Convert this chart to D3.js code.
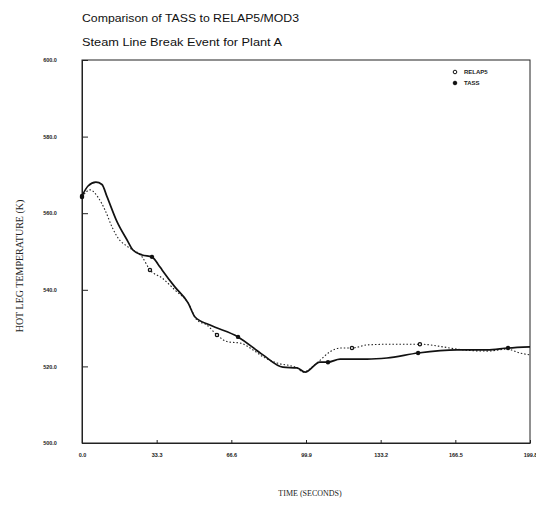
<!DOCTYPE html>
<html>
<head>
<meta charset="utf-8">
<script src="https://cdn.jsdelivr.net/npm/d3@7"></script>
<style>
  body { margin: 0; background: #fff; }
  svg { display: block; }
</style>
</head>
<body>
<svg id="chart" width="536" height="508"></svg>
<script>
// Time (s) and hot leg temperature (K)
const tassTime = [0, 2.7, 6.2, 8.9, 11.1, 15.6, 20.1, 22.7, 26.8, 31.2, 33.9, 35.7, 41.5, 47.3, 50.4, 57.1, 69.6, 80.7, 89.6, 95.9, 99.5, 106.1, 109.7, 115.1, 127.1, 136.0, 149.9, 167.2, 180.6, 190.0, 199.8];
const tassTemp = [564.5, 567.1, 568.1, 567.5, 564.4, 557.8, 553.0, 550.4, 549.1, 548.6, 546.7, 545.2, 540.7, 536.6, 532.9, 530.8, 527.7, 523.0, 519.8, 519.6, 518.5, 521.1, 521.1, 521.9, 521.9, 522.2, 523.5, 524.3, 524.3, 524.8, 525.1];

const relapTime = [0, 3.6, 7.1, 10.3, 13.4, 16.1, 20.5, 26.8, 30.3, 35.7, 41.5, 47.3, 51.3, 55.7, 60.2, 65.1, 70.5, 76.3, 80.7, 87.0, 95.9, 98.6, 104.8, 110.6, 115.1, 120.4, 127.1, 138.7, 150.7, 161.0, 167.2, 180.6, 189.5, 195.3, 199.8];
const relapTemp = [564.2, 566.1, 564.2, 560.8, 556.4, 553.5, 551.2, 548.6, 545.2, 543.1, 539.9, 536.6, 532.1, 530.8, 528.2, 526.4, 526.1, 524.3, 522.5, 520.9, 519.6, 518.5, 520.9, 523.8, 524.8, 524.8, 525.6, 525.8, 525.8, 525.1, 524.5, 524.0, 524.5, 523.5, 523.0];

// indices of the points that carry a symbol
const tassMarks = [0, 9, 16, 22, 26, 29];
const relapMarks = [0, 8, 14, 25, 28];

const xTicks = [0, 33.3, 66.6, 99.9, 133.2, 166.5, 199.8];
const xTickLabels = ["0.0", "33.3", "66.6", "99.9", "133.2", "166.5", "199.8"];
const yTicks = [500, 520, 540, 560, 580, 600];
const yTickLabels = ["500.0", "520.0", "540.0", "560.0", "580.0", "600.0"];

const seriesNames = ["RELAP5", "TASS"];

const svg = d3.select("#chart");

// Plot area
const plotLeft = 82, plotRight = 530, plotTop = 60, plotBottom = 443;

const x = d3.scaleLinear().domain([0, 199.8]).range([plotLeft, plotRight]);
const y = d3.scaleLinear().domain([500, 600]).range([plotBottom, plotTop]);

// Titles
svg.append("text")
    .attr("x", 82).attr("y", 22)
    .attr("font-family", "Liberation Sans, Arial, sans-serif")
    .attr("font-size", 11)
    .attr("textLength", 217)
    .attr("lengthAdjust", "spacingAndGlyphs")
    .attr("fill", "#111")
    .text("Comparison of TASS to RELAP5/MOD3");

svg.append("text")
    .attr("x", 82).attr("y", 46)
    .attr("font-family", "Liberation Sans, Arial, sans-serif")
    .attr("font-size", 11)
    .attr("textLength", 200)
    .attr("lengthAdjust", "spacingAndGlyphs")
    .attr("fill", "#111")
    .text("Steam Line Break Event for Plant A");

// Frame
svg.append("rect")
    .attr("x", plotLeft).attr("y", plotTop)
    .attr("width", plotRight - plotLeft).attr("height", plotBottom - plotTop)
    .attr("fill", "none")
    .attr("stroke", "#222")
    .attr("stroke-width", 1);

// Axes
const yAxis = d3.axisLeft(y)
    .tickValues(yTicks)
    .tickFormat((d, i) => yTickLabels[i])
    .tickSizeInner(-6)
    .tickSizeOuter(0)
    .tickPadding(32);

const yG = svg.append("g")
    .attr("transform", "translate(" + plotLeft + ",0)")
    .call(yAxis);

const xAxis = d3.axisBottom(x)
    .tickValues(xTicks)
    .tickFormat((d, i) => xTickLabels[i])
    .tickSizeInner(-3)
    .tickSizeOuter(0)
    .tickPadding(10);

const xG = svg.append("g")
    .attr("transform", "translate(0," + plotBottom + ")")
    .call(xAxis);

for (let g of [xG, yG]) {
    g.select(".domain").attr("stroke", "#222");
    g.selectAll(".tick line").attr("stroke", "#222");
    g.selectAll(".tick text")
        .attr("font-family", "Liberation Sans, Arial, sans-serif")
        .attr("font-size", 5.5)
        .attr("font-weight", "bold")
        .attr("fill", "#222");
}
yG.selectAll(".tick text").attr("text-anchor", "middle");

// Axis titles
svg.append("text")
    .attr("transform", "translate(23,266) rotate(-90)")
    .attr("text-anchor", "middle")
    .attr("font-family", "Liberation Serif, Times New Roman, serif")
    .attr("font-size", 10)
    .attr("fill", "#222")
    .text("HOT LEG TEMPERATURE (K)");

svg.append("text")
    .attr("x", 310).attr("y", 496)
    .attr("text-anchor", "middle")
    .attr("font-family", "Liberation Serif, Times New Roman, serif")
    .attr("font-size", 8)
    .attr("fill", "#222")
    .text("TIME (SECONDS)");

// Lines
const line = d3.line()
    .x(d => x(d[0]))
    .y(d => y(d[1]))
    .curve(d3.curveMonotoneX);

const relapData = relapTime.map((t, i) => [t, relapTemp[i]]);
const tassData = tassTime.map((t, i) => [t, tassTemp[i]]);

svg.append("path")
    .attr("d", line(relapData))
    .attr("fill", "none")
    .attr("stroke", "#222")
    .attr("stroke-width", 1.1)
    .attr("stroke-dasharray", "1.5,2");

svg.append("path")
    .attr("d", line(tassData))
    .attr("fill", "none")
    .attr("stroke", "#111")
    .attr("stroke-width", 1.7);

// Symbols
svg.append("g").selectAll("circle")
    .data(relapMarks.map(i => relapData[i]))
    .join("circle")
    .attr("cx", d => x(d[0]))
    .attr("cy", d => y(d[1]))
    .attr("r", 1.6)
    .attr("fill", "#fff")
    .attr("stroke", "#111")
    .attr("stroke-width", 1.3);

svg.append("g").selectAll("circle")
    .data(tassMarks.map(i => tassData[i]))
    .join("circle")
    .attr("cx", d => x(d[0]))
    .attr("cy", d => y(d[1]))
    .attr("r", 2.2)
    .attr("fill", "#111");

// Legend
const legend = svg.append("g").attr("transform", "translate(455,72)");
seriesNames.forEach((name, i) => {
    let row = legend.append("g").attr("transform", "translate(0," + (i * 11) + ")");
    row.append("circle")
        .attr("r", 1.8)
        .attr("fill", i == 0 ? "#fff" : "#111")
        .attr("stroke", "#111")
        .attr("stroke-width", 1);
    row.append("text")
        .attr("x", 9).attr("y", 2)
        .attr("font-family", "Liberation Sans, Arial, sans-serif")
        .attr("font-size", 6)
        .attr("font-weight", "bold")
        .attr("fill", "#222")
        .text(name);
});
</script>
</body>
</html>
